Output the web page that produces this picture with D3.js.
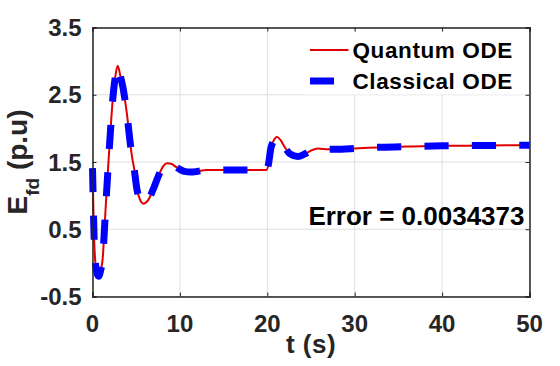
<!doctype html>
<html lang="en">
    <head>
        <meta charset="utf-8">
        <title>Efd response</title>
        <script src="https://cdn.jsdelivr.net/npm/d3@7"></script>
        <style>
            body { margin: 0; background: #fff; }
            svg text { font-family: "Liberation Sans", Arial, sans-serif; font-weight: bold; }
            .grid line { stroke: #dedede; stroke-width: 1px; }
            .axis path, .axis line { stroke: #262626; }
            .tick-label { fill: #262626; }
        </style>
    </head>
    <body>
        <svg width="560" height="366"></svg>
        <script>
            // time samples (s)
            var tVals = [0, 0.05, 0.1, 0.2, 0.32, 0.5, 0.7, 0.95, 1.17, 1.35, 1.55, 1.8, 2.05, 2.31, 2.6, 2.88,
                3.22, 3.5, 3.72, 4.0, 4.21, 4.52, 4.79, 5.05, 5.4, 5.82, 6.4, 6.9, 7.5, 8.1, 8.56, 9.06,
                9.5, 10.0, 10.5, 11.2, 12.0, 13.0, 15, 17, 19.9, 20.15, 20.4, 20.7, 21.1, 21.5, 22.0, 22.6,
                23.5, 24.3, 25.0, 25.8, 27.0, 28.5, 30, 33, 36, 40, 45, 50];

            var quantumVals = [1.41, 1.12, 0.8, 0.31, 0.02, -0.15, -0.2, -0.1, 0.07, 0.46, 0.92, 1.45, 1.95, 2.42, 2.76, 2.93,
                2.76, 2.6, 2.42, 2.15, 1.9, 1.58, 1.38, 1.12, 0.95, 0.88, 0.94, 1.08, 1.28, 1.44, 1.48, 1.47,
                1.43, 1.39, 1.36, 1.35, 1.36, 1.38, 1.38, 1.38, 1.38, 1.48, 1.7, 1.81, 1.87, 1.83, 1.72, 1.62,
                1.58, 1.62, 1.67, 1.70, 1.69, 1.69, 1.70, 1.72, 1.73, 1.74, 1.745, 1.75];

            var classicalVals = [1.41, 1.12, 0.8, 0.31, 0.02, -0.15, -0.2, -0.1, 0.07, 0.46, 0.92, 1.45, 1.95, 2.42, 2.76, 2.93,
                2.76, 2.6, 2.42, 2.15, 1.9, 1.58, 1.38, 1.12, 0.95, 0.88, 0.94, 1.08, 1.28, 1.44, 1.48, 1.47,
                1.43, 1.39, 1.36, 1.35, 1.36, 1.38, 1.38, 1.38, 1.38, 1.48, 1.7, 1.81, 1.87, 1.83, 1.72, 1.62,
                1.58, 1.62, 1.67, 1.70, 1.69, 1.69, 1.70, 1.72, 1.73, 1.74, 1.745, 1.75];

            var xTicks = [0, 10, 20, 30, 40, 50];
            var yTicks = [-0.5, 0.5, 1.5, 2.5, 3.5];
            var seriesNames = ["Quantum ODE", "Classical ODE"];
            var errorLabel = "Error = 0.0034373";

            var margin = {left: 92.5, top: 27.5, right: 30.5, bottom: 69.5};
            var svg = d3.select("svg");
            var width = 560 - margin.left - margin.right;
            var height = 366 - margin.top - margin.bottom;

            var g = svg.append("g")
                .attr("transform", "translate(" + margin.left + "," + margin.top + ")");

            var x = d3.scaleLinear().domain([0, 50]).range([0, width]);
            var y = d3.scaleLinear().domain([-0.5, 3.5]).range([height, 0]);

            // grid
            g.append("g")
                .attr("class", "grid")
                .selectAll("line")
                .data(xTicks)
                .enter().append("line")
                .attr("x1", function(d) { return x(d); })
                .attr("x2", function(d) { return x(d); })
                .attr("y1", 0)
                .attr("y2", height);

            g.append("g")
                .attr("class", "grid")
                .selectAll("line")
                .data(yTicks)
                .enter().append("line")
                .attr("x1", 0)
                .attr("x2", width)
                .attr("y1", function(d) { return y(d); })
                .attr("y2", function(d) { return y(d); });

            var line = d3.line()
                .curve(d3.curveMonotoneX)
                .x(function(d) { return x(d[0]); })
                .y(function(d) { return y(d[1]); });

            var quantum = tVals.map(function(t, i) { return [t, quantumVals[i]]; });
            var classical = tVals.map(function(t, i) { return [t, classicalVals[i]]; });

            // legend background sits over the grid
            g.append("rect")
                .attr("x", 212)
                .attr("y", 5)
                .attr("width", 223)
                .attr("height", 62)
                .attr("fill", "#fff");

            g.append("path")
                .datum(quantum)
                .attr("fill", "none")
                .attr("stroke", "#e00000")
                .attr("stroke-width", 2)
                .attr("d", line);

            var blue = g.append("path")
                .datum(classical)
                .attr("fill", "none")
                .attr("stroke", "#0000ff")
                .attr("stroke-width", 7)
                .attr("d", line);

            // stretch the 24/24 dash a little so that the last dash starts ~11px before the end, as in the figure
            var len = blue.node().getTotalLength();
            var n = Math.round((len - 11) / 48);
            var period = (len - 11) / n;
            blue.attr("stroke-dasharray", (period * 0.51) + "," + (period * 0.49));

            // axes, ticks inward on all four sides
            var tickLen = 4;
            var axisStroke = 1.5;
            g.append("g").attr("class", "axis")
                .attr("transform", "translate(0," + height + ")")
                .call(d3.axisBottom(x).tickValues(xTicks).tickSize(-tickLen).tickFormat(""));
            g.append("g").attr("class", "axis")
                .call(d3.axisTop(x).tickValues(xTicks).tickSize(-tickLen).tickFormat(""));
            g.append("g").attr("class", "axis")
                .call(d3.axisLeft(y).tickValues(yTicks).tickSize(-tickLen).tickFormat(""));
            g.append("g").attr("class", "axis")
                .attr("transform", "translate(" + width + ",0)")
                .call(d3.axisRight(y).tickValues(yTicks).tickSize(-tickLen).tickFormat(""));
            g.selectAll(".axis path").attr("stroke-width", axisStroke);
            g.selectAll(".axis line").attr("stroke-width", 1);

            // tick labels
            g.selectAll(".xlab")
                .data(xTicks)
                .enter().append("text")
                .attr("class", "tick-label")
                .attr("x", function(d) { return x(d); })
                .attr("y", height + 35)
                .attr("text-anchor", "middle")
                .attr("font-size", 24)
                .text(function(d) { return d; });

            g.selectAll(".ylab")
                .data(yTicks)
                .enter().append("text")
                .attr("class", "tick-label")
                .attr("x", -11)
                .attr("y", function(d) { return y(d); })
                .attr("dy", "0.36em")
                .attr("text-anchor", "end")
                .attr("font-size", 24)
                .text(function(d) { return d; });

            // axis titles
            g.append("text")
                .attr("class", "tick-label")
                .attr("x", width / 2)
                .attr("y", height + 56)
                .attr("text-anchor", "middle")
                .attr("font-size", 26)
                .attr("letter-spacing", 0.5)
                .text("t (s)");

            var ylab = svg.append("text")
                .attr("class", "tick-label")
                .attr("transform", "translate(26.5," + (margin.top + height / 2) + ") rotate(-90)")
                .attr("text-anchor", "middle")
                .attr("font-size", 28);
            ylab.append("tspan").text("E");
            ylab.append("tspan").attr("font-size", 19).attr("dy", 12).text("fd");
            ylab.append("tspan").attr("dy", -12).text(" (p.u)");

            // legend
            var legend = g.append("g")
                .selectAll("g")
                .data(seriesNames)
                .enter().append("g")
                .attr("transform", function(d, i) { return "translate(0," + (22.5 + i * 31) + ")"; });

            legend.append("line")
                .attr("x1", 217.5)
                .attr("x2", function(d, i) { return i == 0 ? 256 : 241.5; })
                .attr("stroke", function(d, i) { return i == 0 ? "#e00000" : "#0000ff"; })
                .attr("stroke-width", function(d, i) { return i == 0 ? 2 : 7; });

            legend.append("text")
                .attr("x", 260)
                .attr("y", 8)
                .attr("font-size", 22.5)
                .attr("letter-spacing", 0.6)
                .attr("fill", "#000")
                .text(function(d) { return d; });

            g.append("text")
                .attr("x", 432)
                .attr("y", 197.5)
                .attr("text-anchor", "end")
                .attr("font-size", 26)
                .attr("fill", "#000")
                .text(errorLabel);
        </script>
    </body>
</html>
